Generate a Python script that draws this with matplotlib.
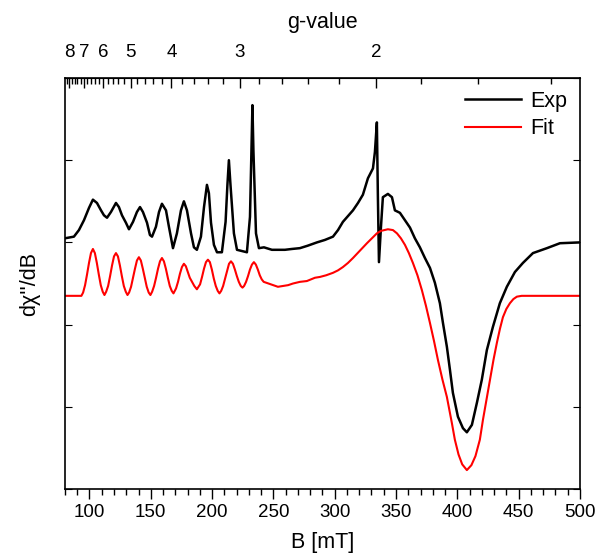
import numpy as np
import matplotlib.pyplot as plt
from matplotlib.ticker import FixedLocator, MultipleLocator

plt.rcParams['font.family'] = ['Liberation Sans', 'DejaVu Sans']

# Experimental spectrum (B in mT, derivative intensity in arb. units)
exp_B = [80.0, 87.3, 91.4, 95.5, 99.6, 102.8, 106.1, 109.4, 111.8, 114.3,
         117.5, 121.6, 124.0, 126.5, 129.7, 132.2, 135.5, 138.7, 141.2, 143.6,
         146.9, 149.3, 151.0, 154.2, 156.7, 159.1, 162.4, 164.8, 168.1, 171.3,
         174.6, 177.0, 179.5, 182.8, 185.2, 187.6, 190.9, 193.4, 195.8, 197.4,
         199.1, 201.5, 204.0, 208.0, 211.0, 212.5, 213.7, 215.0, 217.8, 220.3,
         228.4, 230.9, 232.1, 232.9, 233.7, 235.8, 238.2, 242.3, 248.8, 259.4,
         265.0, 271.6, 278.0, 285.5, 292.0, 298.6, 302.7, 306.7, 310.8, 314.9,
         319.0, 323.0, 327.1, 331.2, 332.8, 334.4, 335.2, 336.1, 337.7, 339.3,
         343.4, 346.7, 349.1, 353.2, 357.3, 361.4, 365.4, 369.5, 373.6, 377.7,
         381.7, 385.8, 388.3, 391.5, 394.0, 396.4, 400.5, 404.6, 407.8, 411.9,
         416.0, 420.0, 424.1, 429.0, 434.7, 440.4, 447.0, 453.5, 461.7, 473.1,
         483.7, 500.0]
exp_y = [3.05, 3.07, 3.15, 3.27, 3.42, 3.52, 3.48, 3.39, 3.33, 3.30,
         3.37, 3.48, 3.43, 3.33, 3.24, 3.16, 3.25, 3.37, 3.43, 3.37,
         3.24, 3.09, 3.07, 3.19, 3.37, 3.47, 3.39, 3.19, 2.93, 3.11,
         3.39, 3.50, 3.39, 3.11, 2.94, 2.91, 3.07, 3.43, 3.70, 3.60,
         3.24, 2.97, 2.88, 2.88, 3.25, 3.70, 4.00, 3.70, 3.11, 2.91,
         2.88, 3.31, 4.12, 4.67, 4.12, 3.11, 2.93, 2.94, 2.91, 2.91,
         2.92, 2.93, 2.96, 3.00, 3.03, 3.07, 3.15, 3.25, 3.32, 3.39,
         3.48, 3.58, 3.78, 3.90, 4.10, 4.46, 3.58, 2.76, 3.18, 3.55,
         3.59, 3.55, 3.39, 3.36, 3.27, 3.18, 3.05, 2.94, 2.81, 2.69,
         2.51, 2.26, 2.02, 1.73, 1.45, 1.17, 0.88, 0.74, 0.69, 0.78,
         1.05, 1.33, 1.69, 1.97, 2.26, 2.46, 2.64, 2.75, 2.87, 2.93,
         2.99, 3.00]

# Simulated spectrum
fit_B = [80.0, 93.4, 94.8, 96.4, 98.0, 99.6, 101.2, 102.8, 104.4, 106.0, 107.6, 109.2, 110.8, 112.2,
         113.6, 115.2, 116.8, 118.4, 120.0, 121.6, 123.2, 124.8, 126.4, 128.0, 129.6, 131.0,
         132.3, 133.9, 135.5, 137.1, 138.7, 140.3, 141.9, 143.5, 145.1, 146.7, 148.3, 149.7,
         151.1, 152.7, 154.3, 155.9, 157.5, 159.1, 160.7, 162.3, 163.9, 165.5, 167.1, 168.5,
         170.6, 172.2, 173.8, 175.4, 177.0, 178.6, 180.2, 181.8, 183.6, 185.5, 187.6,
         190.2, 191.8, 193.4, 195.0, 196.6, 198.2, 199.8, 201.4, 203.0, 204.6, 206.0,
         207.4, 209.0, 210.6, 212.2, 213.8, 215.4, 217.0, 218.6, 220.2, 221.8, 223.4, 224.8,
         226.1, 227.7, 229.3, 230.9, 232.5, 234.1, 235.7, 237.3, 238.9, 240.5, 242.1, 244.0,
         248.0, 253.7, 258.0, 262.0, 266.0, 271.6, 277.3, 283.9, 288.0, 293.0, 298.6, 302.7,
         306.7, 310.8, 314.9, 320.6, 326.3, 330.4, 334.4, 337.7, 343.4, 347.5, 350.8, 354.0,
         357.3, 360.5, 363.8, 367.5, 371.1, 374.4, 377.7, 381.0, 384.2, 387.9, 391.5, 395.6,
         398.0, 401.0, 404.0, 407.8, 411.5, 414.8, 418.4, 420.9, 423.7, 426.6, 429.5, 432.3,
         434.8, 437.2, 440.0, 442.9, 445.7, 448.6, 452.5, 456.8, 500.0]
fit_y = [2.35, 2.35, 2.39, 2.48, 2.61, 2.75, 2.87, 2.92, 2.87, 2.75, 2.61, 2.48, 2.40, 2.36,
         2.40, 2.47, 2.59, 2.72, 2.83, 2.87, 2.83, 2.72, 2.59, 2.47, 2.40, 2.36,
         2.39, 2.46, 2.57, 2.68, 2.78, 2.82, 2.78, 2.68, 2.57, 2.46, 2.39, 2.36,
         2.40, 2.47, 2.57, 2.68, 2.77, 2.81, 2.77, 2.68, 2.57, 2.47, 2.41, 2.38,
         2.44, 2.52, 2.62, 2.70, 2.74, 2.71, 2.64, 2.57, 2.52, 2.47, 2.43,
         2.49, 2.58, 2.68, 2.76, 2.79, 2.76, 2.67, 2.56, 2.47, 2.41, 2.38,
         2.41, 2.47, 2.56, 2.65, 2.74, 2.77, 2.74, 2.67, 2.59, 2.52, 2.47, 2.45,
         2.47, 2.52, 2.59, 2.67, 2.73, 2.76, 2.73, 2.67, 2.60, 2.55, 2.52, 2.51,
         2.49, 2.46, 2.47, 2.48, 2.50, 2.52, 2.53, 2.57, 2.58, 2.60, 2.63, 2.66,
         2.70, 2.75, 2.81, 2.90, 2.99, 3.05, 3.11, 3.14, 3.16, 3.15, 3.11, 3.05,
         2.97, 2.87, 2.75, 2.60, 2.42, 2.23, 2.02, 1.80, 1.57, 1.33, 1.12, 0.80,
         0.60, 0.42, 0.30, 0.23, 0.29, 0.40, 0.60, 0.84, 1.08, 1.33, 1.57, 1.78,
         1.95, 2.09, 2.19, 2.26, 2.31, 2.34, 2.35, 2.35, 2.35]

# g = h*nu/(muB*B), nu ~ 9.34 GHz
hnu_muB = 667.4
g_major = [2, 3, 4, 5, 6, 7, 8]
g_minor = [1.4, 1.6, 1.8, 2.2, 2.4, 2.6, 2.8, 3.2, 3.4, 3.6, 3.8, 4.2, 4.4, 4.6, 4.8,
           5.2, 5.4, 5.6, 5.8, 6.2, 6.4, 6.6, 6.8, 7.2, 7.4, 7.6, 7.8, 8.2]

fig, ax = plt.subplots(figsize=(5.96, 5.56), dpi=100)
fig.subplots_adjust(left=0.109, right=0.973, bottom=0.1205, top=0.8597)

ax.plot(exp_B, exp_y, color='black', lw=1.8, label='Exp')
ax.plot(fit_B, fit_y, color='red', lw=1.5, label='Fit')

ax.set_xlim(80, 500)
ax.set_ylim(0, 5)
ax.xaxis.set_major_locator(MultipleLocator(50))
ax.xaxis.set_minor_locator(MultipleLocator(10))
ax.tick_params(axis='x', which='major', direction='out', length=7, width=1, labelsize=13.5, top=False)
ax.tick_params(axis='x', which='minor', direction='out', length=4, width=1, top=False)
ax.set_yticks(range(6))
ax.tick_params(axis='y', which='both', direction='in', length=5, left=True, right=True, labelleft=False)
for s in ax.spines.values():
    s.set_linewidth(1.2)

ax.set_xlabel('B [mT]', fontsize=15.5, labelpad=8)
ax.set_ylabel("d\u03c7''/dB", fontsize=15.5, labelpad=18)

sec = ax.secondary_xaxis('top', functions=(lambda b: hnu_muB / np.asarray(b, dtype=float),
                                           lambda g: hnu_muB / np.asarray(g, dtype=float)))
sec.xaxis.set_major_locator(FixedLocator(g_major))
sec.xaxis.set_minor_locator(FixedLocator(g_minor))
sec.tick_params(which='major', direction='in', length=7, width=1, labelsize=13.5, pad=12)
sec.tick_params(which='minor', direction='in', length=4, width=1)
sec.set_xlabel('g-value', fontsize=15.5, labelpad=12)

ax.legend(loc='upper right', frameon=False, fontsize=15.5, handlelength=2.6,
          borderaxespad=0.2, labelspacing=0.3, handletextpad=0.4)

fig.savefig('out.png', dpi=100)
